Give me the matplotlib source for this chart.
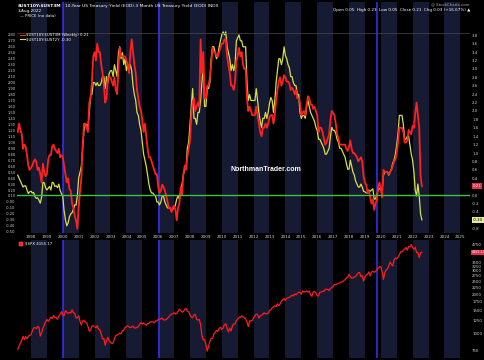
import numpy as np
import pandas as pd
import matplotlib
matplotlib.use('Agg')
import matplotlib.pyplot as plt
import matplotlib.transforms as mtransforms
from matplotlib.lines import Line2D
from matplotlib.ticker import FixedLocator, NullLocator, FuncFormatter

# monthly values, Mar 1997 .. Aug 2022
spread_10y3m = [
    1.50, 1.70, 1.55, 1.45, 1.10, 1.20, 1.15, 0.95, 0.70, 0.60,
    0.65, 0.70, 0.80, 0.85, 0.80, 0.60, 0.65, 0.50, 0.30, 0.75, 0.55, 0.45,
    0.50, 0.85, 0.95, 0.95, 1.15, 1.20, 1.10, 1.05, 1.00, 1.10, 0.90, 0.95,
    0.90, 0.70, 0.50, 0.30, 0.40, 0.15, 0.10, -0.20, -0.30, -0.50, -0.60, -0.80,
    -0.30, 0.10, 0.40, 1.20, 1.70, 1.70, 1.60, 1.50, 2.20, 2.30, 2.70, 3.30,
    3.40, 3.20, 3.60, 3.40, 3.40, 3.10, 2.90, 2.60, 2.20, 2.30, 2.80, 2.80,
    2.80, 2.70, 2.60, 2.80, 2.50, 2.40, 3.00, 3.50, 3.30, 3.30, 3.30, 3.30,
    3.20, 3.10, 2.90, 3.40, 3.70, 3.40, 3.10, 2.90, 2.50, 2.30, 2.10, 2.00,
    1.80, 1.50, 1.70, 1.40, 1.10, 0.90, 0.90, 0.80, 0.70, 0.60, 0.50, 0.50,
    0.20, 0.05, 0.10, 0.25, 0.20, 0.10, 0.00, -0.15, -0.30, -0.30, -0.40, -0.30,
    -0.25, -0.35, -0.60, -0.30, -0.20, 0.20, 0.00, 0.50, 0.70, 0.60, 0.90, 1.10,
    1.30, 1.90, 2.20, 2.30, 2.00, 2.10, 2.20, 2.10, 3.70, 2.90, 3.40, 2.30,
    2.30, 2.60, 2.60, 2.80, 3.10, 3.50, 3.40, 3.40, 3.30, 3.30, 3.40, 3.50,
    3.60, 3.60, 3.70, 3.70, 3.30, 3.10, 2.90, 2.60, 2.60, 2.50, 2.70, 3.20,
    3.30, 3.50, 3.30, 3.40, 3.10, 3.00, 3.00, 2.30, 2.00, 2.10, 2.00, 1.90,
    1.90, 1.90, 2.10, 1.90, 1.70, 1.50, 1.40, 1.60, 1.60, 1.70, 1.60, 1.70,
    1.85, 1.90, 1.90, 1.70, 1.90, 2.25, 2.50, 2.70, 2.80, 2.60, 2.70, 2.85,
    2.80, 2.70, 2.70, 2.65, 2.50, 2.55, 2.50, 2.40, 2.50, 2.30, 2.30, 2.20,
    1.90, 1.97, 2.00, 1.90, 2.15, 2.35, 2.30, 2.15, 2.15, 2.05, 2.10, 2.00,
    1.90, 1.50, 1.60, 1.60, 1.50, 1.35, 1.20, 1.25, 1.35, 1.45, 1.80, 2.00,
    1.95, 1.90, 1.70, 1.45, 1.35, 1.20, 1.20, 1.20, 1.20, 1.20, 1.10, 1.05,
    1.15, 1.30, 1.10, 1.00, 1.00, 0.95, 0.90, 0.80, 0.85, 0.90, 0.80, 0.45,
    0.30, 0.25, 0.05, 0.10, -0.05, -0.20, -0.10, -0.35, -0.20, -0.10, 0.20, 0.30,
    0.15, -0.05, 0.60, 0.55, 0.55, 0.55, 0.50, 0.55, 0.60, 0.70, 0.80, 0.85,
    1.00, 1.25, 1.60, 1.60, 1.60, 1.50, 1.25, 1.25, 1.30, 1.55, 1.50, 1.45,
    1.65, 1.60, 1.95, 2.20, 1.90, 1.60, 0.45, 0.21,
]

spread_10y2y = [
    0.45, 0.40, 0.35, 0.30, 0.25, 0.27, 0.27, 0.20, 0.14, 0.17,
    0.18, 0.15, 0.16, 0.09, 0.06, 0.07, 0.03, -0.02, 0.08, 0.33, 0.32, 0.24,
    0.20, 0.23, 0.26, 0.20, 0.33, 0.32, 0.26, 0.27, 0.24, 0.30, 0.19, 0.14,
    0.09, -0.15, -0.30, -0.40, -0.35, -0.25, -0.20, -0.18, -0.12, -0.05, -0.05, 0.10,
    0.40, 0.50, 0.60, 0.90, 1.20, 1.30, 1.30, 1.25, 1.50, 1.80, 1.80, 2.00,
    2.00, 1.95, 2.00, 1.95, 1.95, 2.00, 2.10, 2.10, 1.90, 2.10, 2.00, 2.15,
    2.20, 2.20, 2.10, 2.30, 2.20, 2.10, 2.50, 2.60, 2.40, 2.50, 2.30, 2.40,
    2.20, 2.30, 2.20, 2.30, 2.20, 1.95, 1.80, 1.70, 1.50, 1.45, 1.30, 1.20,
    1.00, 0.80, 0.70, 0.60, 0.45, 0.30, 0.20, 0.15, 0.15, 0.12, 0.10, 0.00,
    0.00, -0.05, 0.00, 0.10, 0.10, 0.00, -0.05, -0.10, -0.10, -0.10, -0.15, -0.12,
    -0.10, -0.05, 0.05, 0.10, 0.05, 0.20, 0.30, 0.45, 0.55, 0.55, 0.90, 1.00,
    1.30, 1.60, 1.90, 1.40, 1.40, 1.30, 1.50, 1.50, 1.70, 2.00, 2.30, 1.60,
    1.60, 1.90, 1.90, 2.00, 2.40, 2.60, 2.60, 2.50, 2.40, 2.45, 2.60, 2.70,
    2.80, 2.85, 2.80, 2.85, 2.60, 2.50, 2.40, 2.20, 2.30, 2.20, 2.30, 2.70,
    2.75, 2.80, 2.70, 2.70, 2.60, 2.60, 2.60, 2.00, 1.70, 1.80, 1.70, 1.70,
    1.70, 1.70, 1.90, 1.70, 1.50, 1.35, 1.25, 1.40, 1.40, 1.50, 1.40, 1.50,
    1.65, 1.75, 1.70, 1.50, 1.70, 2.00, 2.20, 2.40, 2.40, 2.30, 2.40, 2.60,
    2.45, 2.40, 2.30, 2.25, 2.10, 2.10, 2.00, 1.95, 1.95, 1.80, 1.80, 1.50,
    1.40, 1.45, 1.45, 1.40, 1.60, 1.70, 1.60, 1.50, 1.45, 1.40, 1.35, 1.25,
    1.20, 1.05, 1.05, 1.00, 0.95, 0.90, 0.80, 0.80, 0.85, 0.90, 1.10, 1.25,
    1.20, 1.20, 1.15, 1.05, 1.00, 0.90, 0.90, 0.85, 0.80, 0.75, 0.65, 0.55,
    0.55, 0.70, 0.60, 0.50, 0.45, 0.35, 0.30, 0.25, 0.25, 0.30, 0.25, 0.18,
    0.17, 0.15, 0.15, 0.20, 0.18, 0.20, 0.22, 0.05, 0.05, 0.12, 0.20, 0.23,
    0.20, 0.20, 0.45, 0.50, 0.50, 0.50, 0.45, 0.50, 0.55, 0.65, 0.70, 0.80,
    0.95, 1.15, 1.45, 1.45, 1.45, 1.30, 1.05, 1.05, 1.10, 1.10, 0.95, 0.80,
    0.70, 0.50, 0.20, 0.10, 0.30, 0.10, -0.20, -0.30,
]

spx = [
    757, 801, 848, 885, 954, 899, 947, 915, 955, 970,
    980, 1049, 1102, 1112, 1091, 1134, 1121, 957, 1017, 1099, 1164, 1229,
    1280, 1238, 1286, 1335, 1302, 1373, 1329, 1320, 1283, 1363, 1389, 1469,
    1394, 1366, 1499, 1452, 1421, 1455, 1431, 1518, 1437, 1429, 1315, 1320,
    1366, 1240, 1160, 1249, 1256, 1224, 1211, 1134, 1041, 1060, 1139, 1148,
    1130, 1107, 1147, 1076, 1067, 990, 912, 916, 815, 886, 936, 880,
    856, 841, 848, 917, 964, 975, 990, 1008, 996, 1051, 1058, 1112,
    1131, 1145, 1126, 1107, 1121, 1141, 1102, 1104, 1115, 1130, 1174, 1212,
    1181, 1204, 1181, 1157, 1192, 1191, 1234, 1220, 1229, 1207, 1249, 1248,
    1280, 1281, 1295, 1311, 1270, 1270, 1277, 1304, 1336, 1378, 1401, 1418,
    1438, 1407, 1421, 1482, 1531, 1503, 1455, 1474, 1527, 1549, 1481, 1468,
    1379, 1331, 1323, 1386, 1400, 1280, 1267, 1283, 1166, 969, 896, 903,
    826, 735, 798, 873, 919, 919, 987, 1021, 1057, 1036, 1096, 1115,
    1074, 1104, 1169, 1187, 1089, 1031, 1102, 1049, 1141, 1183, 1181, 1258,
    1286, 1327, 1326, 1364, 1345, 1321, 1292, 1219, 1131, 1253, 1247, 1258,
    1312, 1366, 1408, 1398, 1310, 1362, 1379, 1407, 1441, 1412, 1416, 1426,
    1498, 1515, 1569, 1598, 1631, 1606, 1686, 1633, 1682, 1757, 1806, 1848,
    1783, 1859, 1872, 1884, 1924, 1960, 1931, 2003, 1972, 2018, 2068, 2059,
    1995, 2105, 2068, 2086, 2107, 2063, 2104, 1972, 1920, 2079, 2080, 2044,
    1940, 1932, 2060, 2065, 2097, 2099, 2174, 2171, 2168, 2126, 2199, 2239,
    2279, 2364, 2363, 2384, 2412, 2423, 2470, 2472, 2519, 2575, 2648, 2674,
    2824, 2714, 2641, 2648, 2705, 2718, 2816, 2902, 2914, 2712, 2760, 2507,
    2704, 2784, 2834, 2946, 2752, 2942, 2980, 2926, 2977, 3038, 3141, 3231,
    3226, 2954, 2585, 2912, 3044, 3100, 3271, 3500, 3363, 3270, 3622, 3756,
    3714, 3811, 3973, 4181, 4204, 4298, 4395, 4523, 4308, 4605, 4567, 4766,
    4516, 4374, 4530, 4132, 4132, 3785, 4130, 4155.17,
]

years = list(range(1998, 2026))
marker_dates = [2000.0, 2006.05, 2019.75]
left_ticks = np.round(np.arange(-0.5, 2.81, 0.1), 2)
right_ticks = [-0.8, -0.4, -0.2, 0.0, 0.4, 0.6, 0.8, 1.0, 1.2, 1.4, 1.6, 1.8,
               2.0, 2.2, 2.4, 2.6, 2.8, 3.0, 3.2, 3.4, 3.6, 3.8]
spx_ticks = [750, 1000, 1250, 1500, 1750, 2000, 2250, 2500, 2750, 3000,
             3250, 3500, 4750]

dates = pd.date_range('1997-03-01', periods=len(spx), freq='MS')
t = dates.year + (dates.month - 1) / 12.0

W, H = 485, 360
def fx(x):
    return x / W
def fy(y):
    return 1 - y / H

BG = 'black'
BAND = '#171a33'
TXT = '#d0d0d0'
RED = '#ff2020'
YEL = '#d6de42'
BLUE = '#3434ff'

fig = plt.figure(figsize=(4.85, 3.6), dpi=100, facecolor=BG)
ax = fig.add_axes([fx(17), fy(233), fx(453), 231 / H])
ax2 = ax.twinx()
axs = fig.add_axes([fx(17), fy(358), fx(453), 118 / H])

for a in (ax, axs):
    a.set_facecolor(BG)
    a.set_xlim(1997.12, 2025.61)
    for yr in years[::2]:
        a.axvspan(yr, yr + 1, color=BAND, lw=0, zorder=0)
    for d in marker_dates:
        a.axvline(d, color=BLUE, lw=1.1, zorder=1)
    for s in a.spines.values():
        s.set_visible(False)
for s in ax2.spines.values():
    s.set_visible(False)

# top panel
ax.plot(t, spread_10y2y, color=YEL, lw=0.9, zorder=3)
ax.set_ylim(-0.52, 3.35)
ax.yaxis.set_major_locator(FixedLocator(left_ticks))
ax.yaxis.set_major_formatter(FuncFormatter(lambda v, p: '%.2f' % v))
ax.tick_params(axis='y', labelsize=2.6, colors=TXT, length=0, pad=1)
ax.set_xticks(years)
ax.set_xticklabels([str(y) for y in years])
ax.tick_params(axis='x', labelsize=3, colors=TXT, length=0, pad=1.2)

ax2.plot(t, spread_10y3m, color=RED, lw=1.3, zorder=4)
ax2.set_ylim(-0.90, 4.59)
ax2.axhline(0, color='#3fc23f', lw=1.0, zorder=5)
ax2.axhline(3.85, color='#4a4a4a', lw=0.5, zorder=2)
ax2.yaxis.set_major_locator(FixedLocator(right_ticks))
ax2.yaxis.set_major_formatter(FuncFormatter(lambda v, p: '%.1f' % v))
ax2.tick_params(axis='y', labelsize=2.8, colors=TXT, length=0, pad=1.5)

tr2 = mtransforms.blended_transform_factory(ax2.transAxes, ax2.transData)
ax2.text(1.006, spread_10y3m[-1], '%.2f' % spread_10y3m[-1], transform=tr2,
         fontsize=2.8, color='white', va='center', ha='left', zorder=10,
         bbox=dict(boxstyle='square,pad=0.25', fc='#e0304a', ec='none'))
tr1 = mtransforms.blended_transform_factory(ax.transAxes, ax.transData)
ax.text(1.006, spread_10y2y[-1], '%.2f' % spread_10y2y[-1], transform=tr1,
        fontsize=2.8, color='black', va='center', ha='left', zorder=10,
        bbox=dict(boxstyle='square,pad=0.25', fc='#e6ec9a', ec='none'))

ax2.text(0.55, 0.277, 'NorthmanTrader.com', transform=ax2.transAxes,
         fontsize=5, color='white', fontweight='bold', ha='center',
         va='center', family='Liberation Sans', zorder=11)

leg = ax2.legend([Line2D([], [], color=RED, lw=0.8), Line2D([], [], color=YEL, lw=0.8)],
                 [r'\$UST10Y:\$UST3M (Weekly) %.2f' % spread_10y3m[-1],
                  r'\$UST10Y:\$UST2Y %.2f' % spread_10y2y[-1]],
                 loc='upper left', bbox_to_anchor=(fx(18), fy(31)),
                 bbox_transform=fig.transFigure, frameon=False, fontsize=2.8,
                 handlelength=1.2, handletextpad=0.4, labelspacing=0.2,
                 borderpad=0, labelcolor='white')
leg.set_zorder(12)

# lower panel
axs.plot(t, spx, color='#ff1c1c', lw=0.9, zorder=3)
axs.set_yscale('log')
axs.set_ylim(652, 5150)
axs.yaxis.tick_right()
axs.yaxis.set_major_locator(FixedLocator(spx_ticks))
axs.yaxis.set_minor_locator(NullLocator())
axs.yaxis.set_major_formatter(FuncFormatter(lambda v, p: '%d' % v))
axs.tick_params(axis='y', labelsize=2.8, colors=TXT, length=0, pad=1.5)
axs.set_xticks([])
trs = mtransforms.blended_transform_factory(axs.transAxes, axs.transData)
axs.text(1.004, spx[-1], '%.2f' % spx[-1], transform=trs, fontsize=2.4,
         color='white', va='center', ha='left', zorder=10,
         bbox=dict(boxstyle='square,pad=0.15', fc='#e0304a', ec='none'))
lg2 = axs.legend([Line2D([], [], color='#ff1c1c', marker='s', ls='none', ms=2.2,
                         mfc='#ff1c1c', mec='#ff8080', mew=0.3)],
                 [r'\$SPX %.2f' % spx[-1]], loc='upper left',
                 bbox_to_anchor=(fx(18), fy(240)), bbox_transform=fig.transFigure,
                 frameon=False, fontsize=2.8, handlelength=0.8, handletextpad=0.4,
                 borderpad=0, labelcolor='white')

# header
t1 = fig.text(fx(18), fy(6), r'\$UST10Y:\$UST3M', fontsize=3.2, color='white',
              fontweight='bold', va='center')
fig.canvas.draw()
bb = t1.get_window_extent()
fig.text(bb.x1 / W + fx(3), fy(6),
         '10-Year US Treasury Yield (EOD)-3 Month US Treasury Yield (EOD) INDX',
         fontsize=3.2, color='white', va='center')
fig.text(fx(18), fy(11), '3-Aug-2022', fontsize=3, color='white', va='center')
fig.text(fx(20), fy(16), '\u2014 PRICE (no data)', fontsize=2.8, color='white', va='center')
fig.text(fx(470), fy(4), '@ StockCharts.com', fontsize=2.8, color='#aaaaaa',
         va='center', ha='right')
fig.text(fx(470), fy(10), 'Open 0.05  High 0.23  Low 0.05  Close 0.21  Chg 0.03 (+16.67%) \u25b2',
         fontsize=3, color='white', va='center', ha='right')

fig.savefig('out.png', dpi=100, facecolor=BG)
